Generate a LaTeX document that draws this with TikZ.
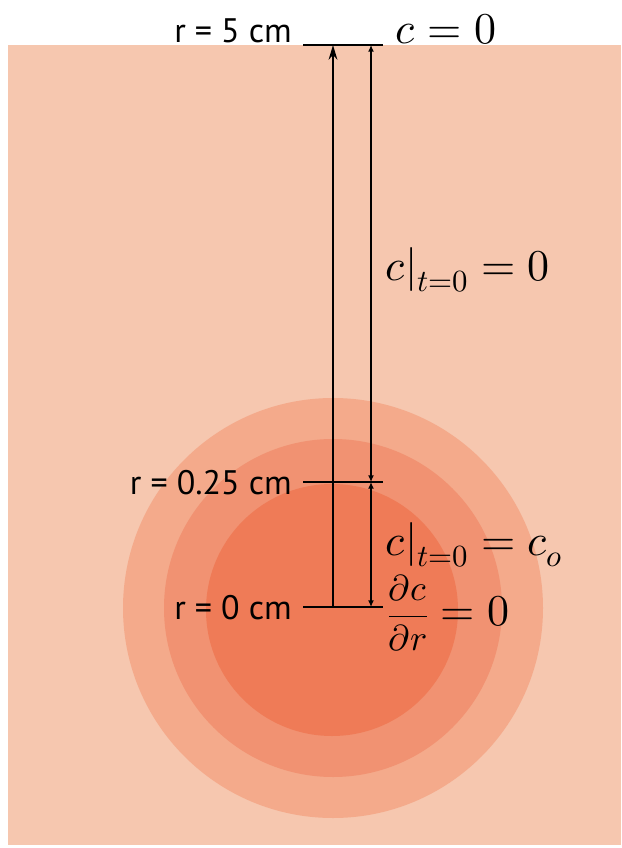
\documentclass[tikz,border=0pt]{standalone}
\usepackage{fontspec}
\usepackage{unicode-math}
\setmainfont{PT Sans}
\usetikzlibrary{arrows.meta}
\definecolor{bgpink}{HTML}{F6C7AF}
\definecolor{ringA}{HTML}{F4AA8B}
\definecolor{ringB}{HTML}{F19272}
\definecolor{ringC}{HTML}{EF7B57}
\begin{document}
\begin{tikzpicture}[x=0.75pt,y=-0.75pt,
  lbl/.style={font=\fontsize{25.5}{28}\selectfont, inner sep=0pt},
  eq/.style={font=\fontsize{33}{36}\selectfont, inner sep=0pt},
  tickline/.style={line width=1.3pt, black},
  mainarrow/.style={line width=1.7pt, -{Stealth[length=11pt,width=6.5pt]}},
  dimarrow/.style={line width=1pt, {Latex[length=5pt,width=4.5pt]}-{Latex[length=5pt,width=4.5pt]}}]
% page and background
\fill[white] (0,0) rectangle (621,848);
\fill[bgpink] (8,45) rectangle (621,845);
% rings
\fill[ringA] (333,608) circle (210);
\fill[ringB] (333,608) circle (169);
\fill[ringC] (332,610) circle (126);
% named points
\coordinate (top) at (333,45);
\coordinate (center) at (333,607);
\coordinate (topR) at (371,45);
\coordinate (midR) at (371,482);
\coordinate (botR) at (371,607);
\coordinate (t5L) at (303,45);   \coordinate (t5R) at (383,45);
\coordinate (tqL) at (303,482);  \coordinate (tqR) at (383,482);
\coordinate (t0L) at (303,607);  \coordinate (t0R) at (383,607);
% ticks
\draw[tickline] (t5L) -- (t5R);
\draw[tickline] (tqL) -- (tqR);
\draw[tickline] (t0L) -- (t0R);
% arrows
\draw[mainarrow] (center) -- (top);
\draw[dimarrow] (topR) -- (midR);
\draw[dimarrow] (midR) -- (botR);
% labels
\node[lbl, anchor=east] (r5) at (292,31) {r = 5 cm};
\node[lbl, anchor=east] (rq) at (292,483) {r = 0.25 cm};
\node[lbl, anchor=east] (r0) at (292,608) {r = 0 cm};
\node[eq, anchor=west] (c0) at (395,29) {$c = 0$};
\node[eq, anchor=west] (ci0) at (385,270) {$c|_{t=0} = 0$};
\node[eq, anchor=west] (cco) at (385,545) {$c|_{t=0} = c_o$};
\node[eq, anchor=west] (dcdr) at (387,613) {{\fontsize{27}{30}\selectfont$\dfrac{\partial c}{\partial r}$}${}= 0$};
\end{tikzpicture}
\end{document}
